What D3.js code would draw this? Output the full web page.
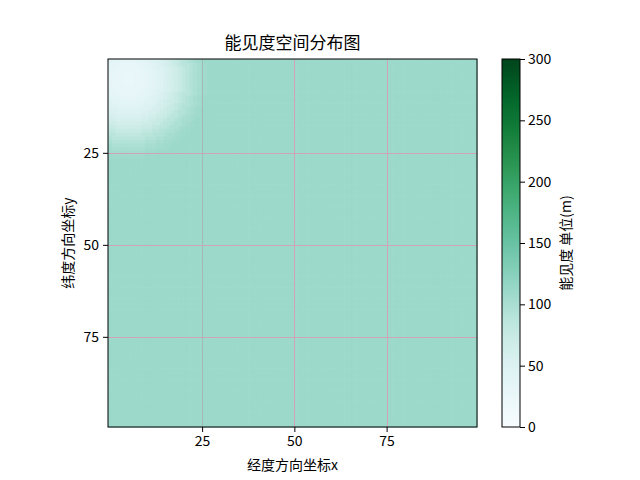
<!DOCTYPE html>
<html><head><meta charset="utf-8">
<script src="https://cdn.jsdelivr.net/npm/d3@7"></script>
<style>body{margin:0;background:#fff}svg{display:block}text{font-family:"Noto Sans CJK SC","DejaVu Sans",sans-serif;fill:#000}</style>
</head><body><svg id="c" width="640" height="480"></svg>
<script>
// grid size (cells per side)
const gridN = 100;
// source (lowest visibility) location
const sourceX = [5];
const sourceY = [5];
// background visibility (m)
const backgroundValue = [110];
// radial visibility profile, by integer distance from the source (cells)
const radialProfile = [28,28,29,30,32,34,37,40,44,49,54,59,64,70,76,82,88,93,98,102,105,108,110];
const xTicks = [25,50,75];
const yTicks = [25,50,75];
const cbTicks = [0,50,100,150,200,250,300];
const cbDomain = [0,300];
const titleText = "能见度空间分布图";
const xLabel = "经度方向坐标x";
const yLabel = "纬度方向坐标y";
const cbLabel = "能见度 单位(m)";

// build the cells table
const cells = [];
for (let j = 0; j < gridN; j++) for (let i = 0; i < gridN; i++) {
  const d = Math.round(Math.hypot(i - sourceX[0], j - sourceY[0]));
  const v = d < radialProfile.length ? radialProfile[d] : backgroundValue[0];
  cells.push({i, j, v});
}

const svg = d3.select("#c");
const L = 108, R = 477, T = 59, B = 427;
const x = d3.scaleLinear().domain([-0.5, gridN - 0.5]).range([L, R]);
const y = d3.scaleLinear().domain([-0.5, gridN - 0.5]).range([T, B]);
const color = d3.scaleSequential(d3.interpolateBuGn).domain(cbDomain);

const cw = x(1) - x(0), ch = y(1) - y(0);
svg.append("g").selectAll("rect").data(cells).join("rect")
  .attr("x", d => x(d.i - 0.5)).attr("y", d => y(d.j - 0.5))
  .attr("width", cw + 0.6).attr("height", ch + 0.6)
  .attr("fill", d => color(d.v));

// grid
const g = svg.append("g").attr("shape-rendering", "crispEdges");
g.selectAll("line.gx").data(xTicks).join("line").attr("class", "gx")
  .attr("x1", d => Math.round(x(d)) + 0.5).attr("x2", d => Math.round(x(d)) + 0.5)
  .attr("y1", T).attr("y2", B)
  .attr("stroke", (d, k) => k === 0 ? "#a2bab3" : "#d0a4b8").attr("stroke-width", 1);
g.selectAll("line.gy").data(yTicks).join("line").attr("class", "gy")
  .attr("y1", d => Math.round(y(d)) + 0.5).attr("y2", d => Math.round(y(d)) + 0.5)
  .attr("x1", L).attr("x2", R)
  .attr("stroke", "#d0a4b8").attr("stroke-width", 1);

// frame
svg.append("rect").attr("x", L).attr("y", T).attr("width", R - L).attr("height", B - T)
  .attr("fill", "none").attr("stroke", "#000").attr("stroke-width", 1);

// axes
const ax = svg.append("g").attr("transform", `translate(0,${B})`)
  .call(d3.axisBottom(x).tickValues(xTicks).tickSize(5).tickPadding(4));
const ay = svg.append("g").attr("transform", `translate(${L},0)`)
  .call(d3.axisLeft(y).tickValues(yTicks).tickSize(5).tickPadding(4));
[ax, ay].forEach(a => {
  a.select(".domain").remove();
  a.selectAll("text").attr("font-size", 14).style("font-family", '"Noto Sans CJK SC",sans-serif');
  a.selectAll("line").attr("stroke", "#000");
});

svg.append("text").attr("x", (L + R) / 2).attr("y", 49).attr("text-anchor", "middle")
  .attr("font-size", 17).text(titleText);
svg.append("text").attr("x", (L + R) / 2).attr("y", 470).attr("text-anchor", "middle")
  .attr("font-size", 14).text(xLabel);
svg.append("text").attr("transform", `translate(73,${(T + B) / 2}) rotate(-90)`).attr("text-anchor", "middle")
  .attr("font-size", 14).text(yLabel);

// colorbar
const cbL = 502, cbR = 520;
const cy = d3.scaleLinear().domain(cbDomain).range([B, T]);
const defs = svg.append("defs");
const grad = defs.append("linearGradient").attr("id", "cbg")
  .attr("x1", 0).attr("y1", 1).attr("x2", 0).attr("y2", 0);
grad.selectAll("stop").data(d3.range(0, 31)).join("stop")
  .attr("offset", k => k / 30)
  .attr("stop-color", k => color(cbDomain[0] + (cbDomain[1] - cbDomain[0]) * k / 30));
svg.append("rect").attr("x", cbL).attr("y", T).attr("width", cbR - cbL).attr("height", B - T)
  .attr("fill", "url(#cbg)").attr("stroke", "#000").attr("stroke-width", 1);
const ac = svg.append("g").attr("transform", `translate(${cbR},0)`)
  .call(d3.axisRight(cy).tickValues(cbTicks).tickSize(5).tickPadding(3));
ac.select(".domain").remove();
ac.selectAll("text").attr("font-size", 14).style("font-family", '"Noto Sans CJK SC",sans-serif');
ac.selectAll("line").attr("stroke", "#000");
svg.append("text").attr("transform", `translate(571,${(T + B) / 2}) rotate(-90)`).attr("text-anchor", "middle")
  .attr("font-size", 14).text(cbLabel);
</script></body></html>
